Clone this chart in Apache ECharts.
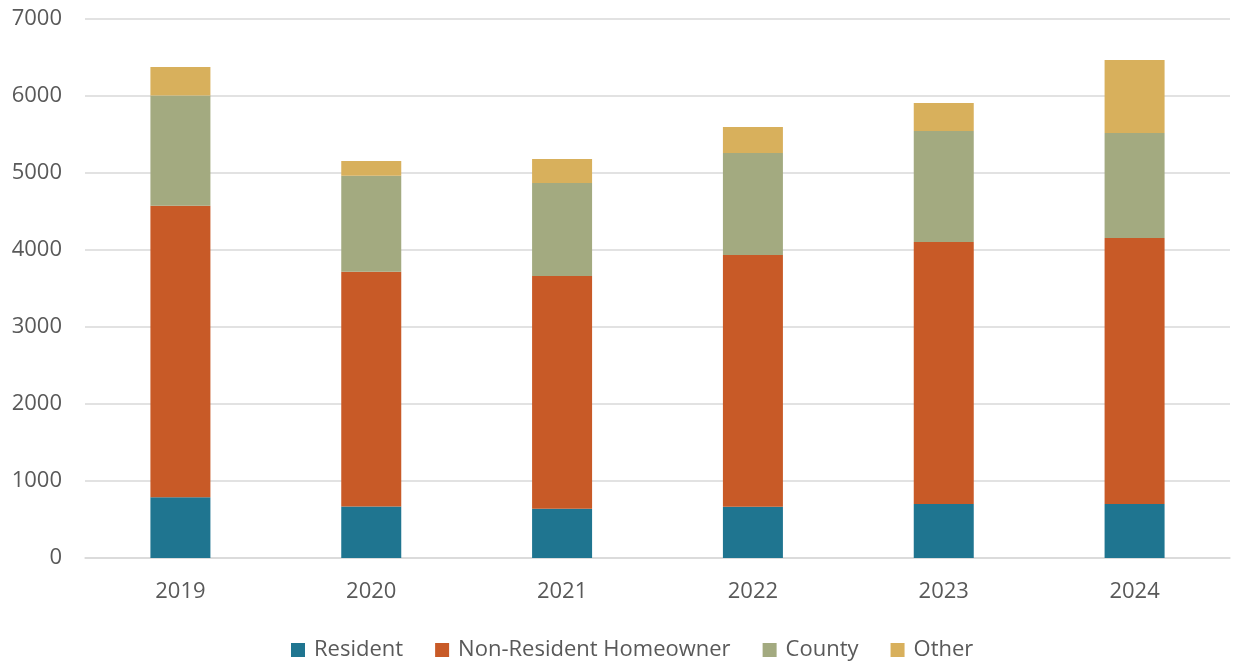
<!DOCTYPE html>
<html><head><meta charset="utf-8">
<script src="https://cdn.jsdelivr.net/npm/echarts@6/dist/echarts.min.js"></script>
<style>html,body{margin:0;padding:0;background:#fff}#c{width:1235px;height:665px}</style>
</head><body><div id="c"></div>
<script>
const categories = ['2019','2020','2021','2022','2023','2024'];
const resident = [790, 670, 640, 665, 700, 700];
const nonResident = [3785, 3048, 3022, 3270, 3404, 3456];
const county = [1430, 1247, 1208, 1325, 1441, 1363];
const other = [372, 191, 312, 337, 364, 949];
const yTicks = [0, 1000, 2000, 3000, 4000, 5000, 6000, 7000];

const font = '"Open Sans", Lato, sans-serif';
const colors = ['#1f7590', '#c85a27', '#a3aa80', '#d8b05c'];
function s(name, data, i) {
  return { name, type: 'bar', stack: 'a', data, barWidth: 60,
    itemStyle: { color: colors[i] }, emphasis: { disabled: true } };
}
const chart = echarts.init(document.getElementById('c'));
chart.setOption({
  animation: false,
  grid: { left: 85, right: 5, top: 19, bottom: 107, containLabel: false },
  legend: {
    bottom: -1, left: 286, itemWidth: 14, itemHeight: 14, itemGap: 32,
    icon: 'rect',
    textStyle: { fontFamily: font, fontSize: 22, color: '#595959', padding: [0, 0, 0, 4] },
    data: ['Resident', 'Non-Resident Homeowner', 'County', 'Other']
  },
  xAxis: {
    type: 'category', data: categories,
    axisLine: { lineStyle: { color: '#d9d9d9', width: 1.5 } },
    axisTick: { show: false },
    axisLabel: { fontFamily: font, fontSize: 22, color: '#595959', margin: 23 }
  },
  yAxis: {
    type: 'value', min: yTicks[0], max: yTicks[yTicks.length - 1], interval: 1000,
    axisLine: { show: false }, axisTick: { show: false },
    splitLine: { lineStyle: { color: '#d9d9d9', width: 1.5 } },
    axisLabel: { fontFamily: font, fontSize: 22, color: '#595959', margin: 23,
      formatter: v => String(v) }
  },
  series: [
    s('Resident', resident, 0),
    s('Non-Resident Homeowner', nonResident, 1),
    s('County', county, 2),
    s('Other', other, 3)
  ]
});
</script></body></html>
